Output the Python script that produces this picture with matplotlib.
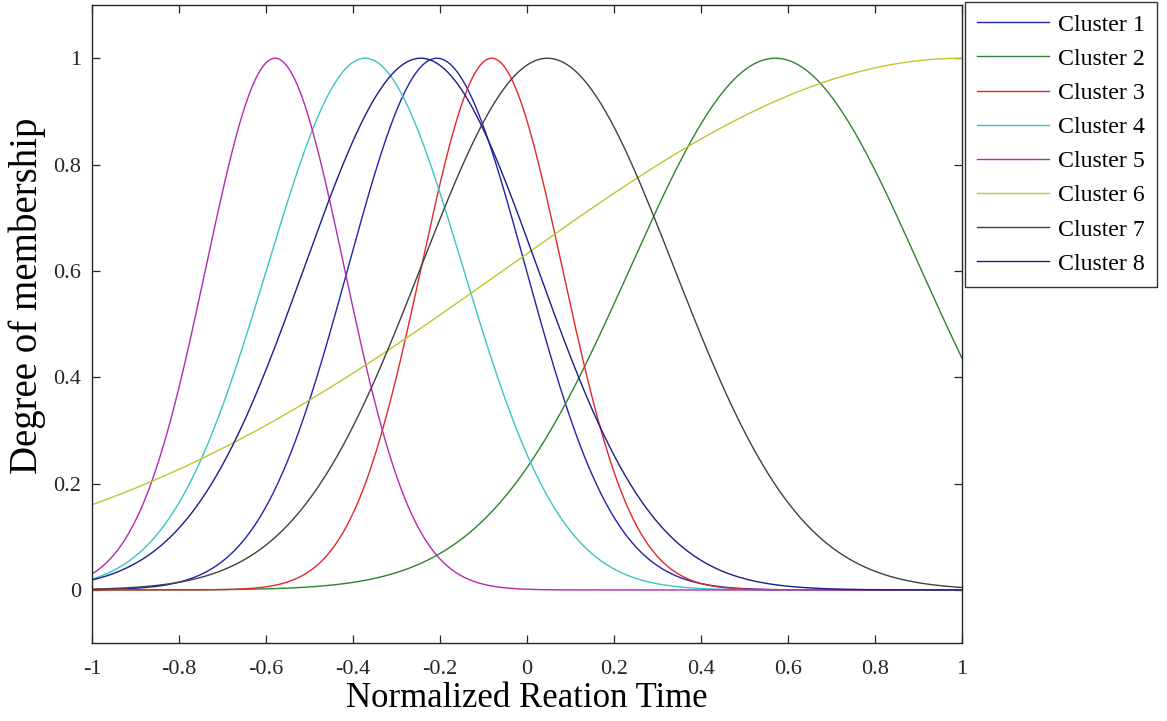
import numpy as np
import matplotlib
matplotlib.use("Agg")
import matplotlib.pyplot as plt

plt.rcParams['font.family'] = ['Liberation Serif', 'DejaVu Serif']
plt.rcParams['axes.unicode_minus'] = False

# gaussian membership functions, parameters
clusters = ["Cluster 1", "Cluster 2", "Cluster 3", "Cluster 4",
            "Cluster 5", "Cluster 6", "Cluster 7", "Cluster 8"]
centers = [-0.207, 0.571, -0.081, -0.372, -0.579, 1.0, 0.047, -0.244]
sigmas = [0.204, 0.333, 0.162, 0.225, 0.159, 1.045, 0.291, 0.268]
colors = ['#2323a8', '#2e842e', '#e02828', '#3cc4c4',
          '#b22ab2', '#c4c42c', '#404040', '#1c1c8c']

xticks = [-1, -0.8, -0.6, -0.4, -0.2, 0, 0.2, 0.4, 0.6, 0.8, 1]
xticklabels = ["-1", "-0.8", "-0.6", "-0.4", "-0.2", "0", "0.2", "0.4", "0.6", "0.8", "1"]
yticks = [0, 0.2, 0.4, 0.6, 0.8, 1]
yticklabels = ["0", "0.2", "0.4", "0.6", "0.8", "1"]


def gaussmf(x, c, s):
    return np.exp(-(x - c) ** 2 / (2 * s ** 2))


x = np.linspace(-1, 1, 801)

fig = plt.figure(figsize=(11.67, 7.21), dpi=100)
ax = fig.add_axes([0.0788, 0.108, 0.7455, 0.885])

for name, c, s, col in zip(clusters, centers, sigmas, colors):
    ax.plot(x, gaussmf(x, c, s), color=col, linewidth=1.0, label=name)

ax.set_xlim(-1, 1)
ax.set_ylim(-0.1, 1.1)
ax.set_xticks(xticks)
ax.set_xticklabels(xticklabels)
ax.set_yticks(yticks)
ax.set_yticklabels(yticklabels)
ax.tick_params(direction='in', top=True, right=True, length=6, width=0.9,
               labelsize=16, colors='#262626')
ax.tick_params(axis='x', pad=12)
ax.tick_params(axis='y', pad=8)
for sp in ax.spines.values():
    sp.set_color('#262626')
    sp.set_linewidth(1.0)

ax.set_xlabel("Normalized Reation Time", fontsize=25, labelpad=2)
ax.set_ylabel("Degree of membership", fontsize=28)
ax.yaxis.set_label_coords(-0.053, 0.545)

leg = fig.legend(loc='upper left', bbox_to_anchor=(965 / 1167, 1 - 2 / 721),
                 fontsize=17.2, frameon=True, fancybox=False, borderaxespad=0,
                 handlelength=3.0, labelspacing=0.52, borderpad=0.5,
                 handletextpad=0.4)
leg.get_frame().set_edgecolor('black')
leg.get_frame().set_linewidth(1.0)

fig.savefig("out.png", dpi=100)
